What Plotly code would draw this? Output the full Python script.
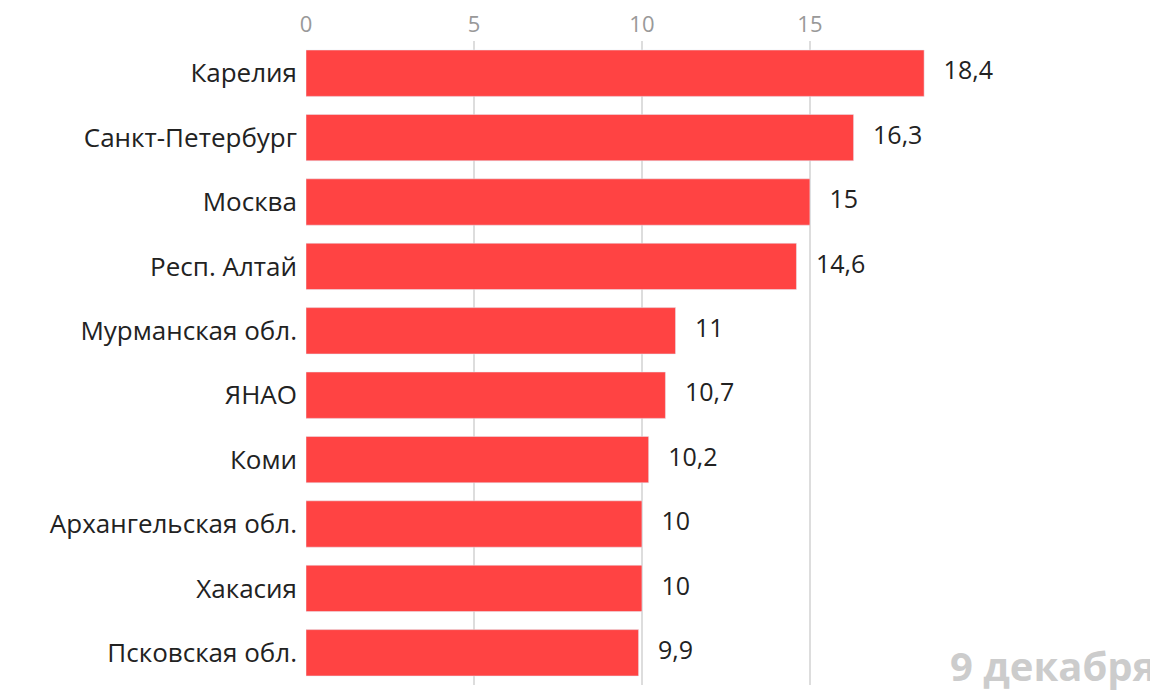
import plotly.graph_objects as go

# Data
regions = ["Карелия", "Санкт-Петербург", "Москва", "Респ. Алтай", "Мурманская обл.",
           "ЯНАО", "Коми", "Архангельская обл.", "Хакасия", "Псковская обл."]
values = [18.4, 16.3, 15, 14.6, 11, 10.7, 10.2, 10, 10, 9.9]
value_labels = ["18,4", "16,3", "15", "14,6", "11", "10,7", "10,2", "10", "10", "9,9"]

fig = go.Figure(go.Bar(
    x=values, y=regions, orientation="h",
    marker_color="#ff4343",
    hoverinfo="skip",
))
# value labels with a gap after the bar end
fig.add_trace(go.Scatter(
    x=values, y=regions, mode="text",
    text=["&nbsp;&nbsp;&nbsp;" + t for t in value_labels],
    textposition="middle right",
    textfont=dict(size=25, color="#222222"),
    cliponaxis=False,
))

fig.update_layout(
    width=1158, height=698,
    margin=dict(l=298, r=0, t=33, b=21, autoexpand=False),
    plot_bgcolor="white", paper_bgcolor="white",
    font=dict(family="Open Sans, sans-serif"),
    bargap=0.28,
    showlegend=False,
    xaxis=dict(side="top", range=[0, 25.6], tickvals=[0, 5, 10, 15],
               showgrid=True, gridcolor="#dddddd", gridwidth=1.5,
               zeroline=False, tickfont=dict(size=22, color="#999999"),
               ticks="", ticklabelstandoff=4, automargin=False),
    yaxis=dict(autorange="reversed", tickfont=dict(size=26, color="#222222"),
               ticks="", ticklabelstandoff=8, automargin=False),
    annotations=[dict(text="<b>9 декабря</b>", x=1, y=0, xref="paper", yref="paper",
                      xanchor="right", yanchor="bottom", showarrow=False,
                      font=dict(size=40, color="#cccccc"), xshift=-8, yshift=-10)],
)

fig.write_html("out.html")
